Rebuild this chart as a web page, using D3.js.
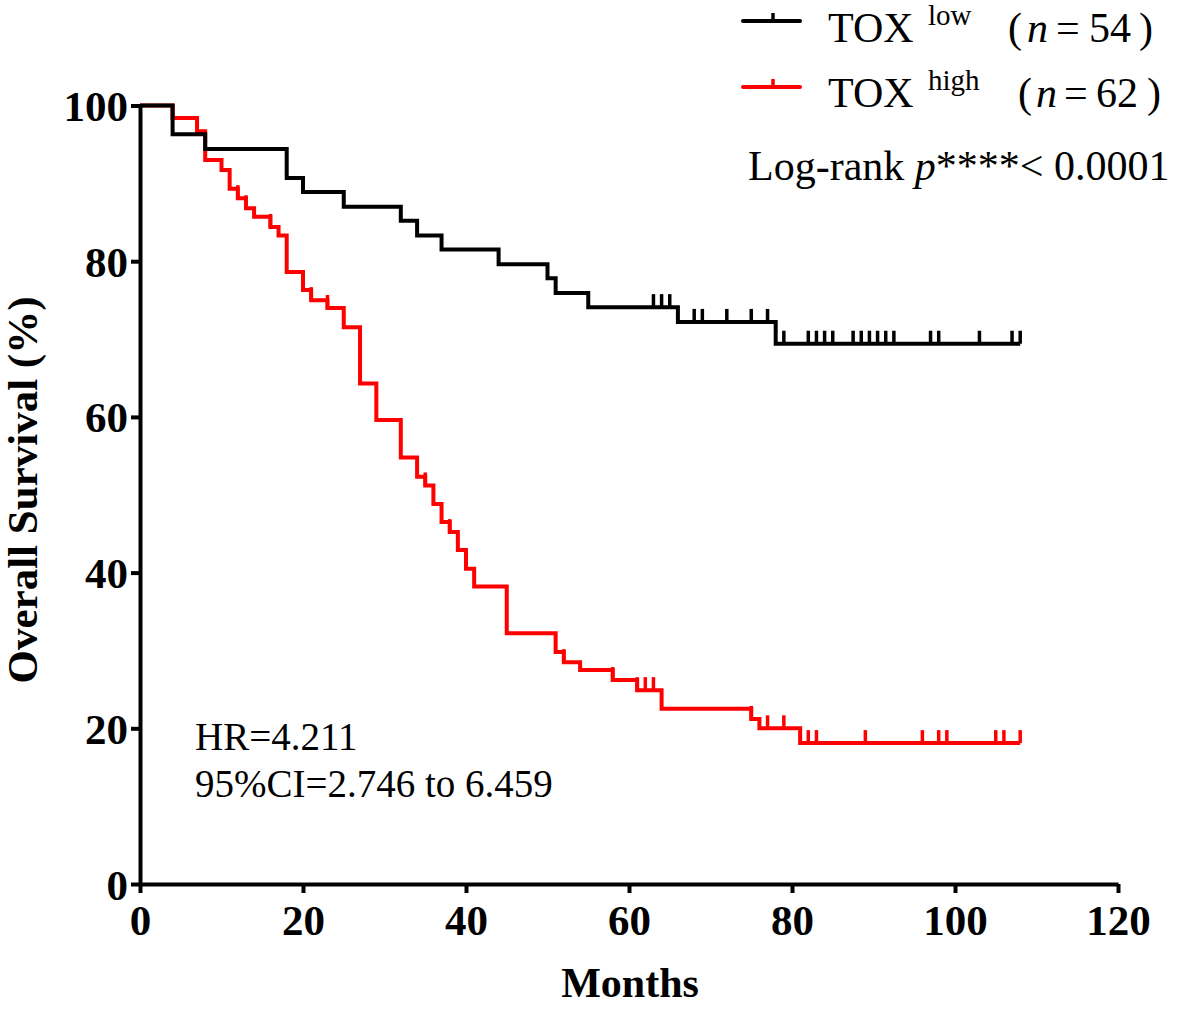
<!DOCTYPE html>
<html>
<head>
<meta charset="utf-8">
<script src="https://cdn.jsdelivr.net/npm/d3@7"></script>
<style>
  body { margin: 0; background: #fff; }
  text { font-family: "Liberation Serif", "Times New Roman", serif; }
</style>
</head>
<body>
<script>
var width = 1180, height = 1010;

// TOX low (n = 54): step times (months) and survival (%) after each step
var lowTimes = [0, 4, 8, 18, 20, 25, 32, 34, 37, 44, 50, 51, 55, 66, 78, 108];
var lowSurv  = [100, 96.3, 94.4, 90.7, 88.9, 87.0, 85.2, 83.3, 81.5, 79.6, 77.8, 75.9, 74.1, 72.2, 69.4, 69.4];
var lowCensored = [63, 64, 65, 68, 69, 72, 75, 77, 79, 82, 83, 84, 85, 87.5, 88.5, 89.5, 90.5, 91.5, 92.5, 97, 98, 103, 107, 108];

// TOX high (n = 62)
var highTimes = [0, 4, 7, 8, 10, 11, 12, 13, 14, 16, 17, 18, 20, 21, 23, 25, 27, 29, 32, 34, 35, 36, 37, 38, 39, 40, 41, 45, 51, 52, 54, 58, 61, 64, 75, 76, 81, 108];
var highSurv  = [100, 98.4, 96.7, 93.0, 91.7, 89.3, 88.1, 86.8, 85.7, 84.4, 83.3, 78.6, 76.3, 75.0, 74.0, 71.5, 64.3, 59.6, 54.8, 52.3, 51.2, 48.8, 46.5, 45.2, 42.9, 40.5, 38.2, 32.2, 29.8, 28.5, 27.5, 26.2, 24.9, 22.5, 21.2, 20.0, 18.1, 18.1];
var highCensored = [4, 12, 13, 16, 21, 23, 35, 38, 52, 58, 61, 62, 63, 75, 77, 79, 82, 83, 89, 96, 98, 99, 105, 106, 108];

var xTicks = [0, 20, 40, 60, 80, 100, 120];
var yTicks = [0, 20, 40, 60, 80, 100];

var svg = d3.select("body")
    .append("svg")
    .attr("width", width)
    .attr("height", height);

var x = d3.scaleLinear().domain([0, 120]).range([140, 1118]);
var y = d3.scaleLinear().domain([0, 100]).range([884, 105.5]);

function survAt(times, surv, t) {
  var s = surv[0];
  for (var i = 0; i < times.length; i++) { if (times[i] <= t) s = surv[i]; }
  return s;
}

var line = d3.line()
    .x(function(d) { return x(d[0]); })
    .y(function(d) { return y(d[1]); })
    .curve(d3.curveStepAfter);

function drawCurve(times, surv, censored, color) {
  var pts = times.map(function(t, i) { return [t, surv[i]]; });
  var g = svg.append("g");
  g.append("path")
    .attr("d", line(pts))
    .attr("fill", "none")
    .attr("stroke", color)
    .attr("stroke-width", 4)
    .attr("stroke-linejoin", "miter");
  g.selectAll("line")
    .data(censored)
  .enter().append("line")
    .attr("x1", function(d) { return x(d); })
    .attr("x2", function(d) { return x(d); })
    .attr("y1", function(d) { return y(survAt(times, surv, d)); })
    .attr("y2", function(d) { return y(survAt(times, surv, d)) - 13; })
    .attr("stroke", color)
    .attr("stroke-width", 3.5);
}

// red first so the black curve lies on top where they meet
drawCurve(highTimes, highSurv, highCensored, "#ff0000");
drawCurve(lowTimes, lowSurv, lowCensored, "#000000");

// axes
var xAxis = svg.append("g")
    .attr("transform", "translate(0,884)")
    .call(d3.axisBottom(x).tickValues(xTicks).tickSize(9).tickSizeOuter(0));
xAxis.select(".domain").attr("stroke-width", 4);
xAxis.selectAll(".tick line").attr("stroke-width", 4);
xAxis.selectAll("text")
    .attr("dy", null)
    .attr("y", 51)
    .attr("font-size", 43)
    .attr("font-weight", "bold")
    .attr("font-family", "Liberation Serif")
    .attr("fill", "#000");

var yAxis = svg.append("g")
    .attr("transform", "translate(140,0)")
    .call(d3.axisLeft(y).tickValues(yTicks).tickSize(9).tickSizeOuter(0));
yAxis.select(".domain").attr("stroke-width", 4);
yAxis.selectAll(".tick line").attr("stroke-width", 4);
yAxis.selectAll("text")
    .attr("x", -12)
    .attr("dy", "0.35em")
    .attr("font-size", 43)
    .attr("font-weight", "bold")
    .attr("font-family", "Liberation Serif")
    .attr("fill", "#000");

// axis titles
svg.append("text")
    .attr("transform", "translate(37,490) rotate(-90)")
    .attr("text-anchor", "middle")
    .attr("font-size", 43)
    .attr("font-weight", "bold")
    .text("Overall Survival (%)");

svg.append("text")
    .attr("x", 630)
    .attr("y", 997)
    .attr("text-anchor", "middle")
    .attr("font-size", 42)
    .attr("font-weight", "bold")
    .text("Months");

// legend
var legend = [
  {color: "#000000", sup: "low",  n: "54", ly: 21, by: 42, px: 1008, nx: 1027, ex: 1056, dx: 1089, cx: 1139},
  {color: "#ff0000", sup: "high", n: "62", ly: 87, by: 107, px: 1018, nx: 1036, ex: 1064, dx: 1096, cx: 1147}
];

legend.forEach(function(d) {
  svg.append("line")
    .attr("x1", 743).attr("x2", 800).attr("y1", d.ly).attr("y2", d.ly)
    .attr("stroke", d.color).attr("stroke-width", 4).attr("stroke-linecap", "round");
  svg.append("line")
    .attr("x1", 773).attr("x2", 773).attr("y1", d.ly).attr("y2", d.ly - 8)
    .attr("stroke", d.color).attr("stroke-width", 3.5);
  svg.append("text").attr("x", 828).attr("y", d.by).attr("font-size", 42).text("TOX");
  svg.append("text").attr("x", 928).attr("y", d.by - 17).attr("font-size", 29).text(d.sup);
  svg.append("text").attr("x", d.px).attr("y", d.by).attr("font-size", 42).text("(");
  svg.append("text").attr("x", d.nx).attr("y", d.by).attr("font-size", 42).attr("font-style", "italic").text("n");
  svg.append("text").attr("x", d.ex).attr("y", d.by).attr("font-size", 42).text("=");
  svg.append("text").attr("x", d.dx).attr("y", d.by).attr("font-size", 42).text(d.n);
  svg.append("text").attr("x", d.cx).attr("y", d.by).attr("font-size", 42).text(")");
});

var lr = svg.append("text").attr("x", 748).attr("y", 180).attr("font-size", 42);
lr.append("tspan").text("Log-rank ");
lr.append("tspan").attr("font-style", "italic").text("p");
lr.append("tspan").text("****< 0.0001");

svg.append("text").attr("x", 195).attr("y", 750).attr("font-size", 39).text("HR=4.211");
svg.append("text").attr("x", 195).attr("y", 797).attr("font-size", 39).text("95%CI=2.746 to 6.459");
</script>
</body>
</html>
